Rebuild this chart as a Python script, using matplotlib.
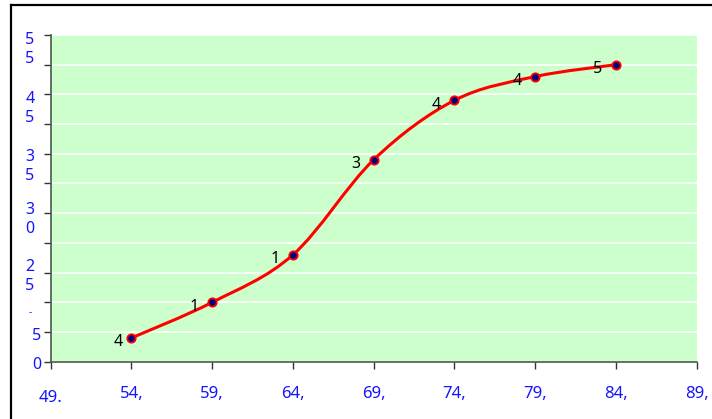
import matplotlib.pyplot as plt
from matplotlib.path import Path
from matplotlib.patches import PathPatch
from matplotlib.lines import Line2D

# Cumulative frequency (ogive) data
upper_bounds = [54.5, 59.5, 64.5, 69.5, 74.5, 79.5, 84.5]
cum_freq = [4, 10, 18, 34, 44, 48, 50]

# Class boundaries on the x axis and their (clipped) labels
x_ticks = [49.5, 54.5, 59.5, 64.5, 69.5, 74.5, 79.5, 84.5, 89.5]
x_labels = ["49.", "54,", "59,", "64,", "69,", "74,", "79,", "84,", "89,"]

# y axis labels as they are rendered (wrapped, two digits stacked)
y_labels = ["5\n5", "4\n5", "3\n5", "3\n0", "2\n5", "-", "5", "0"]
y_label_pos = [52.5, 42.6, 32.8, 23.9, 14.4, 8.2, 4.4, -0.6]

BLUE = "#1414ff"
plt.rcParams['font.family'] = ['Noto Sans', 'DejaVu Sans']

fig = plt.figure(figsize=(7.12, 4.19), dpi=100)
ax = fig.add_axes([50.7 / 712, 1 - 361.7 / 419, 646 / 712, 326.7 / 419])
ax.set_facecolor("#ccffcc")
ax.set_xlim(49.5, 89.5)
ax.set_ylim(0, 55)

ax.set_xticks(x_ticks)
ax.set_yticks(range(0, 56, 5))
ax.yaxis.grid(True, color="white", lw=1.1)
ax.set_axisbelow(True)
ax.tick_params(labelleft=False, labelbottom=False, direction="out",
               length=5, width=1, color="#303830")
for side in ["top", "right"]:
    ax.spines[side].set_visible(False)
for side in ["left", "bottom"]:
    ax.spines[side].set_color("#4a5a4a")
    ax.spines[side].set_linewidth(1.2)

# smoothed line (Excel-style Bezier through the points)
pts = list(zip(upper_bounds, cum_freq))
verts = [pts[0]]
codes = [Path.MOVETO]
n = len(pts)
for i in range(n - 1):
    p0 = pts[max(i - 1, 0)]
    p1 = pts[i]
    p2 = pts[i + 1]
    p3 = pts[min(i + 2, n - 1)]
    c1 = (p1[0] + (p2[0] - p0[0]) / 6, p1[1] + (p2[1] - p0[1]) / 6)
    c2 = (p2[0] - (p3[0] - p1[0]) / 6, p2[1] - (p3[1] - p1[1]) / 6)
    verts += [c1, c2, p2]
    codes += [Path.CURVE4] * 3
ax.add_patch(PathPatch(Path(verts, codes), fill=False, edgecolor="red",
                       lw=2.2, capstyle="round", joinstyle="round", zorder=3))

ax.plot(upper_bounds, cum_freq, ls="none", marker="o", ms=6,
        mfc="#000080", mec="red", mew=1.3, zorder=4)

# value labels (only the first digit shows)
for x, v in zip(upper_bounds, cum_freq):
    s = str(v)
    dx = -13 - 5 * (len(s) - 1)
    ax.annotate(s[0], (x, v), xytext=(dx, -4.5), textcoords="offset pixels",
                ha="center", va="center", fontsize=11.5, color="black")

# x axis labels
for i, (x, lab) in enumerate(zip(x_ticks, x_labels)):
    dy = -36 if i == 0 else -32
    ax.annotate(lab, (x, 0), xycoords=("data", "axes fraction"),
                xytext=(0, dy), textcoords="offset pixels",
                ha="center", va="center", fontsize=12, color=BLUE,
                annotation_clip=False)

# y axis labels
for lab, y in zip(y_labels, y_label_pos):
    dx = -20.7 if "\n" in lab or lab == "-" else -14
    fs = 7 if lab == "-" else 11.5
    ax.annotate(lab, (0, y), xycoords=("axes fraction", "data"),
                xytext=(dx, 0), textcoords="offset pixels",
                ha="center", va="center", fontsize=fs, color=BLUE,
                linespacing=1.25, annotation_clip=False)

# chart border
fig.add_artist(Line2D([11 / 712, 1.0], [1 - 4.7 / 419] * 2,
                      transform=fig.transFigure, color="black", lw=1.6))
fig.add_artist(Line2D([11 / 712] * 2, [0, 1 - 4.7 / 419],
                      transform=fig.transFigure, color="black", lw=1.6))

fig.savefig("out.png", dpi=100)
